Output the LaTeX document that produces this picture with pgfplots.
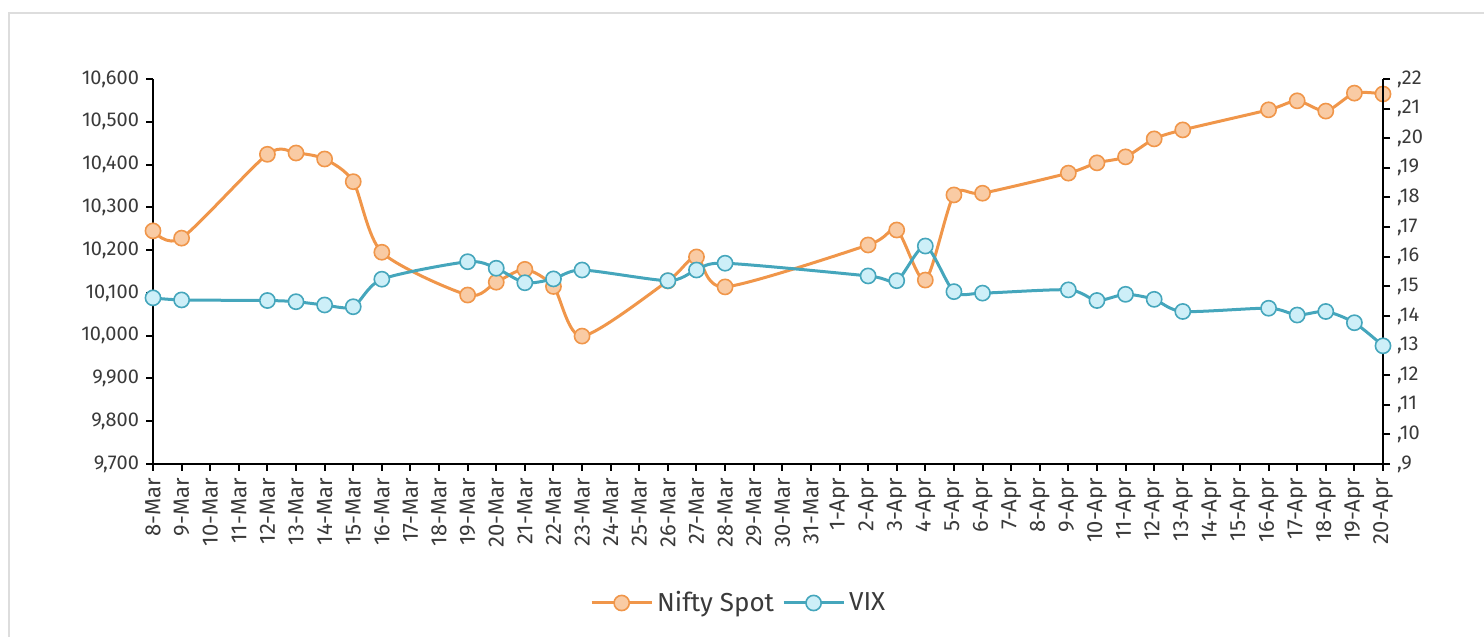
\documentclass[border=0pt]{standalone}
\usepackage{fontspec}
\setmainfont{Fira Sans}
\usepackage{pgfplots}
\pgfplotsset{compat=1.18}
\definecolor{nifty}{HTML}{F0964A}
\definecolor{niftyfill}{HTML}{F9CBA4}
\definecolor{vix}{HTML}{45A6BC}
\definecolor{vixfill}{HTML}{CDEFF8}
\definecolor{txt}{HTML}{3A3A3A}
\definecolor{frame}{HTML}{DDDDDD}
\begin{document}
\begin{tikzpicture}
\useasboundingbox (0,0) rectangle (742pt,318.5pt);
\draw[frame, line width=1pt] (4.5pt,0) -- (4.5pt,312pt) -- (742pt,312pt);
\pgfplotsset{
  base/.style={
    scale only axis, width=615pt, height=192.5pt,
    at={(76.5pt,86.5pt)}, anchor=south west,
    xmin=0, xmax=43, clip=false,
    tick align=outside,
    major tick length=3.5pt,
    every tick/.style={black, line width=1pt},
    axis line style={black, line width=1pt},
    tick label style={font=\fontsize{10}{11}\selectfont, text=txt},
    /pgf/number format/assume math mode=true,
    scaled y ticks=false,
  }
}
\begin{axis}[base,
  axis x line*=bottom, axis y line*=left,
  ymin=9700, ymax=10600,
  ytick={9700,9800,...,10600},
  /pgf/number format/1000 sep={,},
  xtick={0,...,43},
  xticklabels={8-Mar,9-Mar,10-Mar,11-Mar,12-Mar,13-Mar,14-Mar,15-Mar,16-Mar,17-Mar,18-Mar,19-Mar,20-Mar,21-Mar,22-Mar,23-Mar,24-Mar,25-Mar,26-Mar,27-Mar,28-Mar,29-Mar,30-Mar,31-Mar,1-Apr,2-Apr,3-Apr,4-Apr,5-Apr,6-Apr,7-Apr,8-Apr,9-Apr,10-Apr,11-Apr,12-Apr,13-Apr,14-Apr,15-Apr,16-Apr,17-Apr,18-Apr,19-Apr,20-Apr},
  xticklabel style={rotate=90, anchor=east, font=\fontsize{11}{12}\selectfont},
]
\addplot[nifty, line width=1.5pt, smooth, tension=0.45, mark=*, mark size=3.8pt,
  mark options={draw=nifty, fill=niftyfill, line width=0.8pt}]
coordinates {(0,10245)(1,10228)(4,10424)(5,10427)(6,10413)(7,10360)(8,10195)(11,10095)(12,10125)(13,10155)(14,10115)(15,9999)(18,10128)(19,10184)(20,10114)(25,10212)(26,10247)(27,10130)(28,10329)(29,10333)(32,10380)(33,10404)(34,10418)(35,10460)(36,10481)(39,10528)(40,10549)(41,10525)(42,10567)(43,10565)};
\end{axis}
\begin{axis}[base,
  axis x line=none, axis y line*=right,
  ymin=9, ymax=22,
  ytick={9,...,22},
  yticklabels={{,9},{,10},{,11},{,12},{,13},{,14},{,15},{,16},{,17},{,18},{,19},{,20},{,21},{,22}},
  legend columns=2,
  legend style={at={(0.477,-0.361)}, anchor=center, draw=none, fill=none,
    font=\fontsize{13}{14}\selectfont, text=txt,
    /tikz/every even column/.append style={column sep=2pt}},
  legend image code/.code={\draw[#1, mark repeat=2, mark phase=2] plot coordinates {(0pt,0pt)(15pt,0pt)(30pt,0pt)};},
]
\addlegendimage{nifty, line width=1.5pt, mark=*, mark size=3.8pt, mark options={draw=nifty, fill=niftyfill, line width=0.8pt}}
\addlegendentry{Nifty Spot}
\addplot[vix, line width=1.5pt, smooth, tension=0.45, mark=*, mark size=3.8pt,
  mark options={draw=vix, fill=vixfill, line width=0.8pt}]
coordinates {(0,14.61)(1,14.54)(4,14.52)(5,14.48)(6,14.37)(7,14.31)(8,15.24)(11,15.83)(12,15.61)(13,15.12)(14,15.25)(15,15.55)(18,15.19)(19,15.55)(20,15.78)(25,15.35)(26,15.19)(27,16.36)(28,14.82)(29,14.77)(32,14.88)(33,14.52)(34,14.73)(35,14.56)(36,14.15)(39,14.26)(40,14.03)(41,14.15)(42,13.77)(43,12.99)};
\addlegendentry{VIX}
\end{axis}
\end{tikzpicture}
\end{document}
